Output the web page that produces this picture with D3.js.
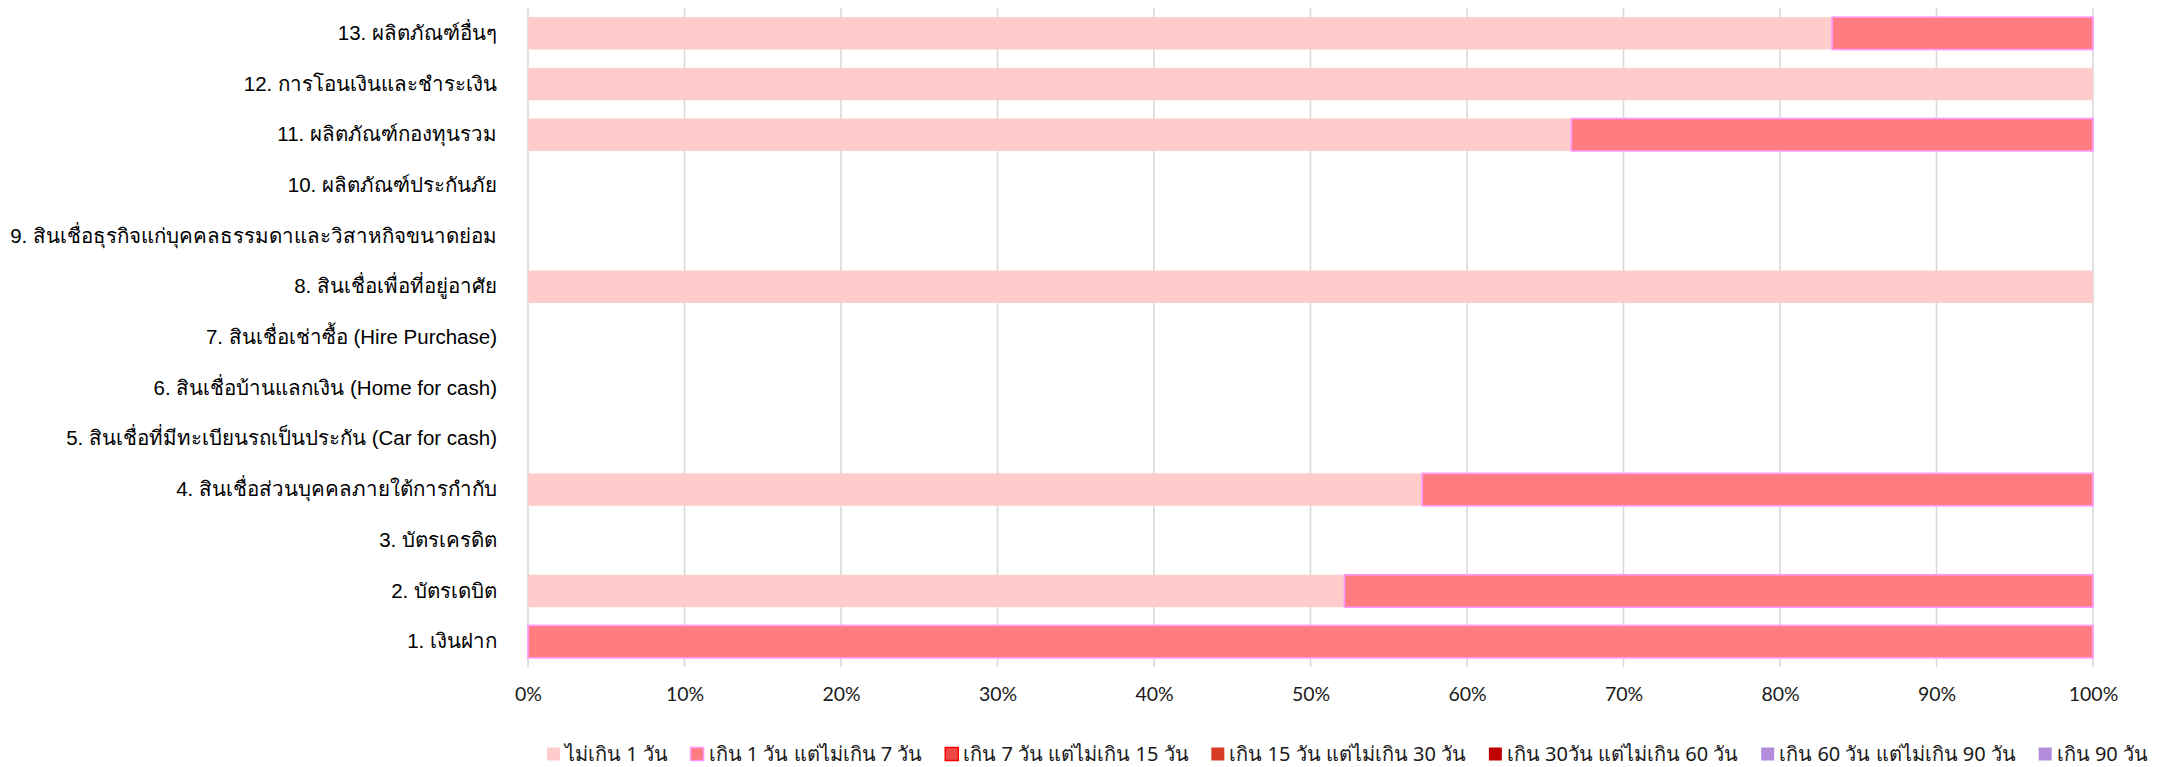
<!DOCTYPE html>
<html><head><meta charset="utf-8">
<script src="https://cdn.jsdelivr.net/npm/d3@7"></script>
<style>body{margin:0;background:#fff} svg{display:block}</style>
</head><body>
<svg id="chart" width="2177" height="767"></svg>
<script>
// Product categories, bottom (1) to top (13)
const categories = [
  "1. เงินฝาก",
  "2. บัตรเดบิต",
  "3. บัตรเครดิต",
  "4. สินเชื่อส่วนบุคคลภายใต้การกำกับ",
  "5. สินเชื่อที่มีทะเบียนรถเป็นประกัน (Car for cash)",
  "6. สินเชื่อบ้านแลกเงิน (Home for cash)",
  "7. สินเชื่อเช่าซื้อ (Hire Purchase)",
  "8. สินเชื่อเพื่อที่อยู่อาศัย",
  "9. สินเชื่อธุรกิจแก่บุคคลธรรมดาและวิสาหกิจขนาดย่อม",
  "10. ผลิตภัณฑ์ประกันภัย",
  "11. ผลิตภัณฑ์กองทุนรวม",
  "12. การโอนเงินและชำระเงิน",
  "13. ผลิตภัณฑ์อื่นๆ"
];

// Duration buckets (series)
const seriesNames = [
  "ไม่เกิน 1 วัน",
  "เกิน 1 วัน แต่ไม่เกิน 7 วัน",
  "เกิน 7 วัน แต่ไม่เกิน 15 วัน",
  "เกิน 15 วัน แต่ไม่เกิน 30 วัน",
  "เกิน 30วัน แต่ไม่เกิน 60 วัน",
  "เกิน 60 วัน แต่ไม่เกิน 90 วัน",
  "เกิน 90 วัน"
];

// Share of cases (%) per category, one array per bucket
const within1Day   = [0, 52.17, 0, 57.14, 0, 0, 0, 100, 0, 0, 66.67, 100, 83.33];
const days1to7     = [100, 47.83, 0, 42.86, 0, 0, 0, 0, 0, 0, 33.33, 0, 16.67];
const days7to15    = [0, 0, 0, 0, 0, 0, 0, 0, 0, 0, 0, 0, 0];
const days15to30   = [0, 0, 0, 0, 0, 0, 0, 0, 0, 0, 0, 0, 0];
const days30to60   = [0, 0, 0, 0, 0, 0, 0, 0, 0, 0, 0, 0, 0];
const days60to90   = [0, 0, 0, 0, 0, 0, 0, 0, 0, 0, 0, 0, 0];
const over90Days   = [0, 0, 0, 0, 0, 0, 0, 0, 0, 0, 0, 0, 0];

const xTickLabels = ["0%","10%","20%","30%","40%","50%","60%","70%","80%","90%","100%"];

const seriesValues = [within1Day, days1to7, days7to15, days15to30, days30to60, days60to90, over90Days];
const fills   = ["#FFCCCC", "#FF7C80", "#F04848", "#D63C25", "#C00000", "#B48CDC", "#B48CDC"];
const strokes = ["none",    "#FF99FF", "#FF0000", "none",    "none",    "none",    "none"];

// Rows for the stack layout
const rows = categories.map((c, i) => {
  const r = {category: c};
  seriesNames.forEach((s, k) => r[s] = seriesValues[k][i] / 100);
  return r;
});
const stacked = d3.stack().keys(seriesNames)(rows);

const svg = d3.select("#chart");
const plot = {left: 528, right: 2093, top: 8, bottom: 667};

const x = d3.scaleLinear().domain([0, 1]).range([plot.left, plot.right]);
const y = d3.scaleBand()
  .domain(categories.slice().reverse())
  .range([plot.top, plot.bottom])
  .paddingInner(0.36)
  .paddingOuter(0.18);

// Vertical gridlines
svg.append("g")
  .selectAll("line")
  .data(d3.range(0, 1.0001, 0.1))
  .join("line")
  .attr("x1", d => x(d)).attr("x2", d => x(d))
  .attr("y1", plot.top).attr("y2", plot.bottom)
  .attr("stroke", "#D9D9D9")
  .attr("stroke-width", 1.6);

// Stacked bars
svg.append("g")
  .selectAll("g")
  .data(stacked)
  .join("g")
  .attr("fill", (d, i) => fills[i])
  .attr("stroke", (d, i) => strokes[i])
  .attr("stroke-width", 1.6)
  .selectAll("rect")
  .data(d => d.filter(p => p[1] - p[0] > 0))
  .join("rect")
  .attr("x", d => x(d[0]))
  .attr("width", d => x(d[1]) - x(d[0]))
  .attr("y", d => y(d.data.category))
  .attr("height", y.bandwidth());

// Category axis
const yAxis = svg.append("g")
  .attr("transform", `translate(${plot.left},0)`)
  .call(d3.axisLeft(y).tickSize(0).tickPadding(31));
yAxis.select(".domain").remove();
yAxis.selectAll("text")
  .attr("font-family", "'Liberation Sans', Arial, sans-serif")
  .attr("font-size", 20.5)
  .attr("fill", "#000");

// Percentage axis
const xAxis = svg.append("g")
  .attr("transform", `translate(0,${plot.bottom})`)
  .call(d3.axisBottom(x).tickValues(d3.range(0, 11).map(i => i / 10))
    .tickFormat((d, i) => xTickLabels[i]).tickSize(0).tickPadding(20));
xAxis.select(".domain").remove();
xAxis.selectAll("text")
  .attr("font-family", "Lato, 'Open Sans', sans-serif")
  .attr("font-size", 19.5)
  .attr("fill", "#1a1a1a");

// Legend, spread across the bottom
const legendLeft = 547, legendRight = 2148, legendY = 754, sw = 13, textGap = 5;
const legend = svg.append("g");
const items = legend.selectAll("g")
  .data(seriesNames)
  .join("g");
items.append("rect")
  .attr("width", sw).attr("height", sw)
  .attr("y", legendY - sw / 2)
  .attr("fill", (d, i) => fills[i])
  .attr("stroke", (d, i) => strokes[i])
  .attr("stroke-width", 1.5);
items.append("text")
  .attr("x", sw + textGap)
  .attr("y", legendY)
  .attr("dy", "0.35em")
  .attr("font-family", "'Noto Sans', sans-serif")
  .attr("font-size", 20)
  .attr("fill", "#1a1a1a")
  .text(d => d);
const widths = items.nodes().map(n => n.getBBox().width);
const totalW = d3.sum(widths);
const gap = (legendRight - legendLeft - totalW) / (seriesNames.length - 1);
let cx = legendLeft;
items.each(function(d, i) {
  d3.select(this).attr("transform", `translate(${cx},0)`);
  cx += widths[i] + gap;
});
</script>
</body></html>
